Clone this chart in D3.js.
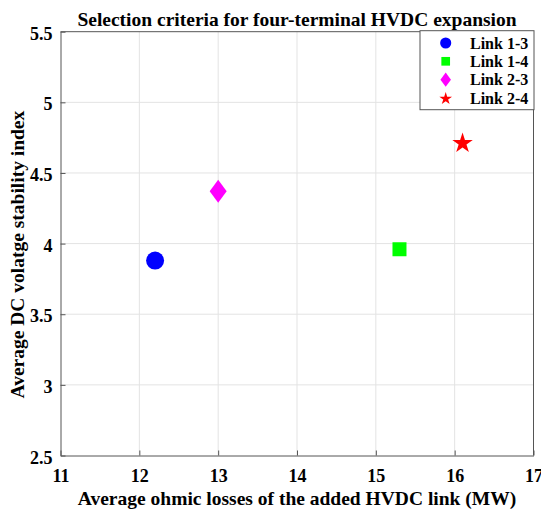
<!DOCTYPE html>
<html><head><meta charset="utf-8">
<script src="https://cdn.jsdelivr.net/npm/d3@7"></script>
<style>body{margin:0;background:#fff}svg{display:block}text{font-family:"Liberation Serif","Times New Roman",serif;font-weight:bold;fill:#000}</style>
</head><body><div id="c"></div>
<script>
const links = ["Link 1-3","Link 1-4","Link 2-3","Link 2-4"];
const losses = [12.2, 15.3, 13.0, 16.1];
const stability = [3.88, 3.96, 4.37, 4.71];
const colors = ["#0000ff","#00ff00","#ff00ff","#ff0000"];
const shapes = ["circle","square","diamond","star"];
const xTicks = [11,12,13,14,15,16,17];
const yTicks = [2.5,3,3.5,4,4.5,5,5.5];
const title = "Selection criteria for four-terminal HVDC expansion";
const xLabel = "Average ohmic losses of the added HVDC link (MW)";
const yLabel = "Average DC volatge stability index";

const W=541,H=509;
const m={l:60.5,r:533.5,t:31.7,b:455.5};
const svg=d3.select("#c").append("svg").attr("width",W).attr("height",H);
const x=d3.scaleLinear().domain([11,17]).range([m.l,m.r]);
const y=d3.scaleLinear().domain([2.5,5.5]).range([m.b,m.t]);

// grid
svg.append("g").selectAll("line").data(xTicks.slice(1,-1)).join("line")
 .attr("x1",d=>x(d)).attr("x2",d=>x(d)).attr("y1",m.t).attr("y2",m.b)
 .attr("stroke","#e3e3e3").attr("stroke-width",1);
svg.append("g").selectAll("line").data(yTicks.slice(1,-1)).join("line")
 .attr("y1",d=>y(d)).attr("y2",d=>y(d)).attr("x1",m.l).attr("x2",m.r)
 .attr("stroke","#e3e3e3").attr("stroke-width",1);

// axes
const fmt=d3.format("");
const xa=svg.append("g").attr("transform",`translate(0,${m.b})`)
 .call(d3.axisBottom(x).tickValues(xTicks).tickFormat(fmt).tickSizeInner(-5).tickSizeOuter(0).tickPadding(14));
const ya=svg.append("g").attr("transform",`translate(${m.l},0)`)
 .call(d3.axisLeft(y).tickValues(yTicks).tickFormat(fmt).tickSizeInner(-5).tickSizeOuter(0).tickPadding(8));
[xa,ya].forEach(a=>{a.selectAll("path,line").attr("stroke","#555");a.selectAll("text").style("font-size","18px").attr("fill","#000");});
xa.selectAll("text").attr("dy","0.71em");
ya.selectAll("text").attr("dy","0.42em");
// top/right box
svg.append("line").attr("x1",m.l).attr("x2",m.r).attr("y1",m.t).attr("y2",m.t).attr("stroke","#555");
svg.append("line").attr("x1",m.r).attr("x2",m.r).attr("y1",m.t).attr("y2",m.b).attr("stroke","#555");

// symbols
const symType={circle:d3.symbolCircle,square:d3.symbolSquare,diamond:d3.symbolDiamond,star:d3.symbolStar};
function marker(g,shape,color,scale){
  if(shape==="diamond"){
    const w=8.5*scale,h=11.5*scale;
    g.append("path").attr("d",`M0,${-h}L${w},0L0,${h}L${-w},0Z`).attr("fill",color);
  } else {
    const sizes={circle:254,square:196,star:130};
    g.append("path").attr("d",d3.symbol().type(symType[shape]).size(sizes[shape]*scale*scale)()).attr("fill",color);
  }
}
links.forEach((l,i)=>{
  const g=svg.append("g").attr("transform",`translate(${x(losses[i])},${y(stability[i])})`);
  marker(g,shapes[i],colors[i],1);
});

// title & labels
svg.append("text").attr("x",297).attr("y",26).attr("text-anchor","middle").style("font-size","19.5px").text(title);
svg.append("text").attr("x",297).attr("y",505).attr("text-anchor","middle").style("font-size","19.5px").text(xLabel);
svg.append("text").attr("transform",`translate(24,${(m.t+m.b)/2+11}) rotate(-90)`).attr("text-anchor","middle").style("font-size","19.5px").text(yLabel);

// legend
const lg=svg.append("g");
lg.append("rect").attr("x",420).attr("y",30.7).attr("width",114).attr("height",79).attr("fill","#fff").attr("stroke","#555");
const ly=[43,61.3,79.7,98.7];
links.forEach((l,i)=>{
  const g=lg.append("g").attr("transform",`translate(445.7,${ly[i]})`);
  marker(g,shapes[i],colors[i],0.62);
  lg.append("text").attr("x",470).attr("y",ly[i]).attr("dy","0.35em").style("font-size","16px").text(l);
});
</script></body></html>
